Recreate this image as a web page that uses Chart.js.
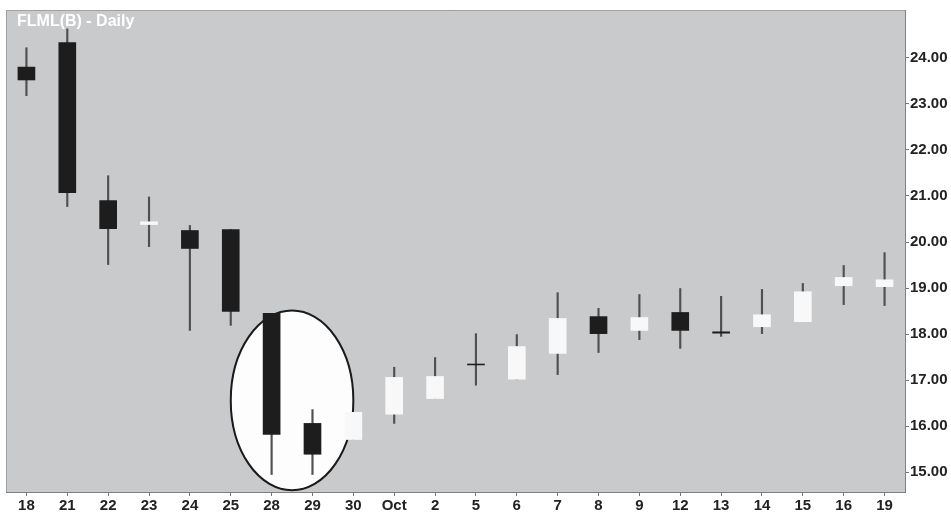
<!DOCTYPE html>
<html>
<head>
<meta charset="utf-8">
<script src="https://cdn.jsdelivr.net/npm/chart.js@4"></script>
<style>
  html, body { margin: 0; padding: 0; background: #fff; }
  #wrap { width: 951px; height: 515px; }
</style>
</head>
<body>
<div id="wrap"><canvas id="chart"></canvas></div>
<script>
const days = ['18', '21', '22', '23', '24', '25', '28', '29', '30', 'Oct', '2', '5', '6', '7', '8', '9', '12', '13', '14', '15', '16', '19'];
const opens  = [23.80, 24.33, 20.90, 20.38, 20.25, 20.27, 18.45, 16.06, 15.71, 16.26, 16.60, 17.35, 17.02, 17.58, 18.38, 18.08, 18.47, 18.05, 18.16, 18.27, 19.05, 19.03];
const highs  = [24.22, 24.63, 21.44, 20.98, 20.36, 20.27, 18.45, 16.36, 16.30, 17.28, 17.49, 18.01, 17.99, 18.90, 18.56, 18.86, 18.99, 18.82, 18.97, 19.10, 19.49, 19.77];
const lows   = [23.18, 20.77, 19.51, 19.90, 18.08, 18.19, 14.95, 14.95, 15.71, 16.06, 16.60, 16.89, 17.02, 17.12, 17.60, 17.88, 17.69, 17.95, 18.01, 18.27, 18.64, 18.62];
const closes = [23.52, 21.07, 20.29, 20.44, 19.86, 18.49, 15.82, 15.39, 16.30, 17.06, 17.08, 17.33, 17.73, 18.34, 18.01, 18.36, 18.08, 18.02, 18.42, 18.92, 19.23, 19.18];
const priceTicks = [15, 16, 17, 18, 19, 20, 21, 22, 23, 24];

const bodies = days.map((d, i) => [opens[i], closes[i]]);
const wicks = days.map((d, i) => [lows[i], highs[i]]);
const bodyColors = days.map((d, i) => closes[i] < opens[i] ? '#1d1d1d' : '#f8f8f8');

// circled area: between the 28 and 29 candles
const ring = { from: 6, to: 7, halfWidth: 1.5, top: 18.51, bottom: 14.61 };

const frame = {
  id: 'frame',
  beforeDraw(chart) {
    const { ctx, chartArea: a } = chart;
    ctx.save();
    ctx.fillStyle = '#c9cacc';
    ctx.fillRect(a.left, a.top, a.right - a.left, a.bottom - a.top);
    ctx.strokeStyle = '#a0a0a0';
    ctx.lineWidth = 1;
    ctx.beginPath();
    ctx.moveTo(a.left + 0.5, a.bottom);
    ctx.lineTo(a.left + 0.5, a.top + 0.5);
    ctx.lineTo(a.right, a.top + 0.5);
    ctx.stroke();
    ctx.restore();
  },
  beforeDatasetsDraw(chart) {
    const { ctx, scales: { x, y } } = chart;
    const x0 = x.getPixelForValue(ring.from);
    const x1 = x.getPixelForValue(ring.to);
    const cx = (x0 + x1) / 2;
    const rx = ring.halfWidth * (x1 - x0);
    const yt = y.getPixelForValue(ring.top);
    const yb = y.getPixelForValue(ring.bottom);
    ctx.save();
    ctx.beginPath();
    ctx.ellipse(cx, (yt + yb) / 2, rx, (yb - yt) / 2, 0, 0, Math.PI * 2);
    ctx.fillStyle = '#fdfdfd';
    ctx.fill();
    ctx.strokeStyle = '#1a1a1a';
    ctx.lineWidth = 2;
    ctx.stroke();
    ctx.restore();
  },
  afterDraw(chart) {
    const { ctx, chartArea: a } = chart;
    ctx.save();
    ctx.fillStyle = '#ffffff';
    ctx.font = 'bold 16px "Liberation Sans", Arial, sans-serif';
    ctx.textBaseline = 'alphabetic';
    ctx.fillText('FLML(B) - Daily', a.left + 11, a.top + 16);
    ctx.restore();
  }
};

new Chart(document.getElementById('chart'), {
  type: 'bar',
  data: {
    labels: days,
    datasets: [
      {
        label: 'body',
        data: bodies,
        backgroundColor: bodyColors,
        barThickness: 17,
        grouped: false,
        order: 1
      },
      {
        label: 'range',
        data: wicks,
        backgroundColor: '#505050',
        barThickness: 1.5,
        grouped: false,
        order: 2
      }
    ]
  },
  options: {
    responsive: true,
    maintainAspectRatio: false,
    animation: false,
    layout: { padding: { left: 6, top: 9, right: 0, bottom: 0 } },
    plugins: {
      legend: { display: false },
      tooltip: { enabled: false }
    },
    scales: {
      x: {
        offset: true,
        grid: { display: true, drawOnChartArea: false, offset: false, tickLength: 4, color: '#777' },
        border: { color: '#808080', width: 1 },
        ticks: {
          color: '#222',
          padding: 1,
          maxRotation: 0,
          autoSkip: false,
          font: { family: '"Liberation Sans", Arial, sans-serif', size: 15, weight: 'bold' }
        },
        afterFit(scale) { scale.height = 23; }
      },
      y: {
        position: 'right',
        min: 14.57,
        max: 25.04,
        afterBuildTicks(scale) { scale.ticks = priceTicks.map(v => ({ value: v })); },
        grid: { display: true, drawOnChartArea: false, tickLength: 4, color: '#777' },
        border: { color: '#808080', width: 1 },
        ticks: {
          color: '#222',
          padding: 1,
          font: { family: '"Liberation Sans", Arial, sans-serif', size: 15, weight: 'bold' },
          callback: v => Number(v).toFixed(2)
        },
        afterFit(scale) { scale.width = 46; }
      }
    }
  },
  plugins: [frame]
});
</script>
</body>
</html>
